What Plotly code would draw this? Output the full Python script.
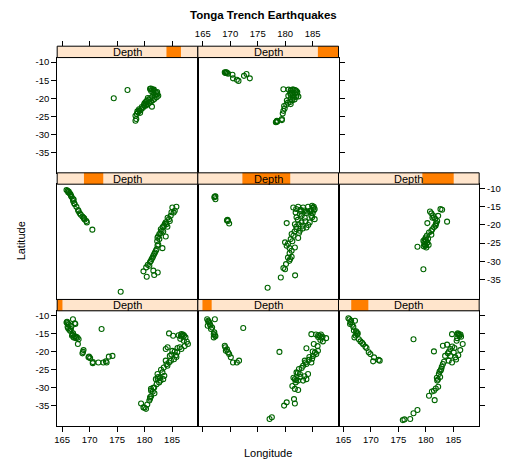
import plotly.graph_objects as go

# ---------------- data ----------------
depth_lo = [39.5, 60.5, 97.5, 161.5, 242.5, 421.5, 537.5, 586.5]
depth_hi = [63.5, 102.5, 175.5, 249.5, 460.5, 564.5, 603.5, 680.5]
depth_range = [39.5, 680.5]

x_ticks = [165, 170, 175, 180, 185]
y_ticks = [-10, -15, -20, -25, -30, -35]
y_ticktext = ["-10", "-15", "-20", "-25", "-30", "-35"]

lon_d1 = [165.8, 165.9, 166.0, 166.97, 167.4, 167.3, 166.0, 166.1, 166.5, 166.3, 166.6, 166.8, 166.9, 167.1, 167.3, 167.6, 168.0, 167.8,
          167.87, 168.9, 168.7, 168.8, 169.8, 170.1, 169.9, 170.57, 170.6, 171.6, 172.5, 172.96, 173.1, 173.5, 174.16, 172.18,
          184.46, 185.2, 186.7, 186.85, 187.0, 187.2, 186.6, 187.45, 187.9, 187.7, 187.15, 186.7, 186.4, 185.96, 185.5, 185.06,
          183.86, 184.6, 185.36, 184.46, 184.16, 183.86, 184.0, 183.26, 183.5, 182.36, 182.5, 182.06, 182.4, 182.66, 183.4, 183.6,
          181.76, 181.17, 181.5, 181.2, 181.0, 181.2, 180.87, 181.0, 179.37, 179.8, 180.27, 180.0,
          166.2, 166.7, 167.0, 167.5, 186.2, 186.5, 187.3, 186.0, 185.7, 184.9, 185.8, 183.0, 182.8, 182.2, 181.8, 181.6,
          180.5, 182.9, 184.8, 184.2]
lat_d1 = [-12.0, -11.8, -12.2, -11.1, -12.4, -12.2, -13.2, -13.6, -14.3, -14.0, -13.8, -15.65, -15.4, -16.1, -15.8, -15.9, -16.6, -16.2,
          -17.9, -19.6, -20.5, -20.1, -21.6, -21.8, -21.4, -23.2, -22.9, -23.0, -23.0, -22.7, -23.0, -21.4, -21.2, -13.8,
          -15.0, -15.65, -15.2, -15.5, -15.3, -15.6, -15.8, -16.1, -17.9, -17.3, -17.0, -19.3, -18.8, -20.2, -20.0, -19.8,
          -19.3, -21.2, -22.1, -23.0, -23.9, -22.5, -23.5, -25.75, -24.4, -26.2, -27.0, -27.6, -27.5, -28.5, -27.6, -26.7,
          -29.9, -30.3, -31.0, -30.8, -32.6, -32.3, -33.5, -33.0, -34.3, -35.4, -35.8, -35.5,
          -12.5, -13.0, -15.0, -16.3, -15.5, -16.5, -18.5, -19.0, -21.0, -20.8, -21.5, -25.0, -27.2, -29.0, -31.5, -30.0,
          -34.6, -28.0, -22.5, -18.8]

lon_d2 = [165.8, 166.0, 166.2, 165.9, 166.3, 166.5, 166.7, 167.1, 167.0, 167.0, 167.3, 167.2, 172.36,
          169.0, 169.1, 169.2, 169.4, 169.8, 169.6, 170.1, 170.5, 171.2, 171.6, 178.95,
          184.76, 185.6, 186.0, 186.26, 186.5, 186.8, 187.45, 186.85, 186.4, 185.2, 183.86, 185.66, 185.06, 185.96, 185.4,
          183.56, 183.86, 184.76, 184.3, 183.26, 183.7, 182.06, 182.66, 182.3, 181.76, 182.36, 182.0, 183.26, 183.86, 184.16,
          181.76, 182.36, 181.6, 181.76, 179.8, 180.27, 177.15, 177.57,
          166.4, 166.0, 167.2, 186.0, 186.6, 185.9, 185.0, 184.4, 184.9, 183.0, 182.5, 181.5, 181.9, 182.8, 183.5, 181.3]
lat_d2 = [-11.1, -11.5, -12.0, -12.9, -12.5, -13.8, -13.4, -14.7, -15.2, -16.1, -15.8, -11.1, -13.5,
          -18.4, -18.8, -19.8, -19.4, -20.7, -20.2, -21.6, -23.0, -23.0, -22.5, -20.1,
          -15.2, -15.3, -15.5, -15.65, -15.3, -15.9, -16.3, -17.2, -16.8, -17.9, -19.1, -20.7, -21.2, -19.8, -20.3,
          -22.5, -23.45, -23.0, -22.3, -23.9, -23.0, -25.75, -26.2, -25.9, -27.6, -28.0, -27.9, -28.0, -27.6, -26.2,
          -30.3, -30.6, -33.1, -34.3, -34.9, -34.0, -38.6, -38.1,
          -12.8, -11.8, -15.5, -16.0, -16.2, -18.5, -20.0, -21.5, -22.0, -24.5, -24.8, -27.2, -28.5, -27.0, -26.8, -29.5]

lon_d3 = [165.9, 166.1, 166.4, 167.1, 166.2, 166.6, 166.8, 167.4, 167.3, 167.6, 167.5, 167.0, 167.8, 168.6, 169.2, 169.0,
          169.6, 169.9, 170.57, 170.4, 171.6, 171.4, 177.75, 181.47,
          184.76, 185.8, 185.96, 186.3, 186.1, 185.7, 186.7, 183.1, 183.86, 184.46, 185.06, 186.26, 184.46, 185.36, 184.0,
          184.76, 184.16, 183.1, 182.8, 182.9, 182.36, 182.5, 182.06, 182.2, 182.24, 181.47, 181.1, 180.57, 181.6,
          178.47, 177.75, 177.15, 175.8, 176.1,
          166.3, 166.9, 167.2, 168.1, 168.4, 186.0, 186.4, 185.6, 185.2, 184.8, 184.2, 183.5, 183.3, 182.7, 182.6, 182.0,
          181.8, 185.9, 185.5]
lat_d3 = [-10.8, -11.1, -11.5, -11.5, -12.4, -12.6, -13.2, -14.7, -14.4, -15.0, -15.3, -16.1, -16.6, -18.0, -19.0, -18.7,
          -20.2, -20.7, -21.6, -22.7, -22.5, -22.3, -16.6, -19.96,
          -15.2, -15.0, -15.2, -15.3, -15.7, -16.3, -17.9, -18.4, -18.1, -19.3, -20.2, -19.6, -21.2, -21.6, -20.5,
          -23.0, -22.5, -23.45, -24.8, -24.2, -26.2, -25.5, -28.0, -27.7, -29.7, -30.8, -31.0, -32.2, -33.4,
          -36.1, -37.0, -38.6, -38.9, -38.7,
          -11.9, -14.2, -15.6, -17.2, -17.6, -15.4, -15.9, -17.0, -19.0, -18.6, -20.0, -21.2, -22.8, -25.2, -27.0, -27.2,
          -30.2, -21.0, -22.2]

lon_d4 = [165.8, 166.0, 166.2, 166.5, 166.3, 166.7, 166.95, 167.0, 167.2, 167.3, 167.9, 168.0, 168.4, 168.7, 168.9, 169.1,
          169.4, 169.5, 170.5,
          185.06, 185.8, 185.5, 184.9, 184.76, 184.46, 184.2, 183.86, 184.0, 183.56, 184.16, 183.3, 182.96, 183.1, 182.7,
          182.9, 182.36, 182.5, 183.86, 182.36, 182.5, 182.06, 182.2, 181.76, 181.9, 181.47, 181.17, 181.3, 180.87, 180.3,
          179.8, 180.4, 181.6, 182.4, 181.76, 183.26, 175.66,
          166.1, 166.6, 167.1, 167.6, 168.2, 169.0, 185.3, 184.6, 183.7, 183.4, 182.7, 182.3, 181.6, 181.0, 180.6]
lat_d4 = [-10.4, -10.6, -10.8, -11.5, -11.2, -12.2, -12.8, -13.4, -14.0, -14.3, -15.9, -16.2, -17.2, -17.7, -18.0, -18.5,
          -18.9, -19.3, -21.3,
          -15.2, -15.0, -16.1, -16.5, -17.5, -18.4, -18.0, -19.3, -19.8, -20.2, -20.5, -20.6, -21.2, -21.7, -22.5,
          -22.3, -23.5, -23.1, -23.2, -25.7, -25.4, -27.1, -26.7, -28.0, -27.6, -29.0, -29.9, -29.4, -31.25, -31.7,
          -32.8, -34.3, -32.6, -33.1, -33.8, -26.4, -38.4,
          -11.0, -11.9, -13.0, -15.0, -16.8, -18.2, -16.6, -18.9, -19.7, -21.8, -23.9, -24.5, -28.5, -30.2, -31.0]

lon_d5 = [167.2, 167.3, 167.1, 167.3, 169.5, 169.6, 169.4, 169.8,
          181.47, 182.36, 183.26, 184.16, 184.9, 185.1, 185.36, 185.2, 185.36, 184.76, 184.46, 183.86, 182.66, 182.06,
          181.76, 182.06, 182.66, 182.96, 183.56, 182.9, 183.9, 182.3, 183.2, 181.9, 180.27, 181.17, 181.5, 181.0,
          179.97, 180.27, 181.17, 181.76, 182.36, 181.17, 180.75, 180.9, 180.15, 179.67, 179.97, 179.2, 181.8, 176.8,
          180.5, 180.8,
          182.0, 182.8, 183.5, 184.0, 184.5, 185.0, 184.9, 183.0, 182.4, 183.7, 184.2, 182.0, 181.7, 182.5, 183.2, 184.7,
          185.2, 180.8, 180.5, 181.3]
lat_d5 = [-12.2, -12.1, -12.4, -12.9, -18.6, -18.9, -18.8, -19.6,
          -15.2, -15.0, -15.2, -15.0, -14.7, -15.3, -15.65, -16.0, -18.4, -17.5, -19.3, -20.7, -17.0, -17.9,
          -19.8, -21.2, -21.6, -19.3, -18.0, -16.2, -16.7, -18.6, -20.2, -16.6, -19.5, -22.5, -23.0, -23.9,
          -24.8, -25.75, -27.1, -26.2, -23.6, -28.77, -29.9, -29.4, -30.8, -31.9, -32.2, -34.5, -33.9, -37.3,
          -25.2, -26.4,
          -15.6, -15.8, -16.0, -16.3, -16.2, -16.8, -17.9, -17.5, -19.8, -19.0, -20.0, -20.5, -21.8, -22.2, -21.0, -16.0,
          -15.0, -27.8, -29.0, -24.5]

lon_d6 = [180.75, 182.66, 182.96, 182.24, 183.86, 180.27, 181.0, 181.3, 181.47, 181.7, 182.06, 181.9, 181.76, 181.5,
          181.17, 180.57, 181.0, 180.2, 179.97, 179.8, 179.55, 179.8, 180.27, 179.9, 180.1, 180.4, 178.47, 179.55,
          179.7, 179.9, 180.2, 180.5, 179.6, 180.0, 181.2, 181.8, 181.0]
lat_d6 = [-16.3, -15.65, -15.8, -17.5, -19.1, -19.5, -16.8, -17.4, -17.9, -18.3, -18.9, -19.5, -20.2, -20.6,
          -21.2, -22.1, -22.7, -22.9, -23.45, -24.0, -24.4, -25.3, -24.8, -25.8, -26.2, -23.8, -26.0, -32.2,
          -24.7, -25.6, -25.0, -25.5, -25.9, -24.2, -18.0, -19.8, -21.7]

lon_d7 = [174.4, 176.9, 181.0, 181.17, 181.4, 181.6, 182.06, 182.3, 182.5, 182.2, 181.8, 181.5, 180.9, 181.2, 180.4,
          180.6, 180.0, 180.3, 179.4, 179.7, 178.8, 179.1, 178.35, 178.5, 178.35, 181.35, 180.0, 180.6,
          181.2, 181.6, 181.9, 181.4, 181.0, 180.7, 180.2, 179.9, 179.5, 179.0, 178.7, 178.6, 179.2, 180.3, 181.7, 182.3]
lat_d7 = [-20.0, -17.7, -17.4, -17.3, -17.5, -17.8, -18.4, -18.9, -19.3, -19.7, -20.2, -20.5, -21.2, -20.9, -20.7,
          -21.6, -22.1, -22.0, -23.0, -22.6, -23.9, -23.4, -24.8, -25.7, -26.2, -22.3, -21.4, -19.9,
          -18.0, -18.5, -19.2, -19.6, -20.0, -20.4, -21.0, -21.8, -22.4, -23.0, -23.6, -24.3, -24.0, -21.6, -17.6, -18.3]

lon_d8 = [169.19, 169.3, 169.1, 169.6, 170.4, 170.5, 171.2, 171.5, 172.5, 172.96, 173.56,
          179.67, 180.6, 181.0, 181.5, 182.0, 181.2, 181.8, 182.1, 182.4, 180.57, 181.0, 181.5, 181.3, 180.9, 181.0,
          180.5, 179.8, 179.67, 179.55, 179.4, 178.47, 178.4, 178.6,
          181.3, 181.8, 182.2, 180.9, 181.4, 182.0, 181.7, 181.0, 180.3, 180.2, 179.9, 178.5, 178.3, 179.4, 169.0, 169.4]
lat_d8 = [-12.9, -12.8, -13.0, -13.2, -13.5, -14.5, -14.9, -15.2, -13.8, -13.3, -14.5,
          -17.5, -17.6, -17.8, -17.6, -17.9, -18.4, -18.6, -19.0, -19.5, -19.3, -19.0, -19.8, -20.5, -21.0, -21.6,
          -21.2, -22.1, -23.45, -24.2, -25.7, -26.4, -26.5, -26.3,
          -17.6, -17.7, -18.3, -18.5, -19.2, -19.6, -20.3, -20.2, -20.6, -21.8, -22.8, -26.2, -26.6, -26.0, -12.8, -13.0]

lons = [lon_d1, lon_d2, lon_d3, lon_d4, lon_d5, lon_d6, lon_d7, lon_d8]
lats = [lat_d1, lat_d2, lat_d3, lat_d4, lat_d5, lat_d6, lat_d7, lat_d8]

# ---------------- layout geometry ----------------
W, H = 507, 459
XR = [164.1, 189.7]
YR = [-40.54, -8.77]
col_left = [54.5, 196.0, 337.5]
pw = 141.5
strip_top0 = 45.3
sh = 11.4
ph = 115.5
FONT = "Liberation Sans, Arial, sans-serif"


def px(x):
    return x / W


def py(y):
    return 1 - y / H


pos = {1: (2, 0), 2: (2, 1), 3: (2, 2), 4: (1, 0), 5: (1, 1), 6: (1, 2), 7: (0, 0), 8: (0, 1)}

fig = go.Figure()
layout = {}
shapes = []
annotations = []

for k in range(1, 9):
    r, c = pos[k]
    left = col_left[c]
    s_top = strip_top0 + r * (sh + ph)
    s_bot = s_top + sh
    p_top = s_bot
    p_bot = p_top + ph

    fig.add_trace(go.Scatter(
        x=lons[k - 1], y=lats[k - 1], mode="markers",
        xaxis=f"x{k}", yaxis=f"y{k}", showlegend=False, hoverinfo="skip",
        marker=dict(symbol="circle-open", size=5, color="#006400", line=dict(width=1.1, color="#006400")),
    ))

    xa = dict(domain=[px(left), px(left + pw)], range=XR, anchor=f"y{k}",
              showline=True, mirror=True, linecolor="black", linewidth=1,
              showgrid=False, zeroline=False, tickvals=x_ticks,
              tickfont=dict(family=FONT, size=9.5, color="black"))
    if r == 2:
        xa.update(ticks="outside", ticklen=5, tickwidth=1, tickcolor="black", showticklabels=(c != 1))
    else:
        xa.update(ticks="", showticklabels=False)

    ya = dict(domain=[py(p_bot), py(p_top)], range=YR, anchor=f"x{k}",
              showline=True, mirror=True, linecolor="black", linewidth=1,
              showgrid=False, zeroline=False, tickvals=y_ticks, ticktext=y_ticktext,
              tickfont=dict(family=FONT, size=9.5, color="black"))
    if c == 0 and r in (0, 2):
        ya.update(ticks="outside", ticklen=5, tickwidth=1, tickcolor="black", side="left", showticklabels=True)
    elif k in (3, 6, 8):
        ya.update(ticks="outside", ticklen=5, tickwidth=1, tickcolor="black", side="right",
                  showticklabels=(k == 6))
    else:
        ya.update(ticks="", showticklabels=False)

    layout[f"xaxis{k}"] = xa
    layout[f"yaxis{k}"] = ya

    # strip
    shapes.append(dict(type="rect", xref="paper", yref="paper", x0=px(left), x1=px(left + pw),
                       y0=py(s_bot), y1=py(s_top), fillcolor="#FFE5CC", line=dict(width=0)))
    f0 = (depth_lo[k - 1] - depth_range[0]) / (depth_range[1] - depth_range[0])
    f1 = (depth_hi[k - 1] - depth_range[0]) / (depth_range[1] - depth_range[0])
    shapes.append(dict(type="rect", xref="paper", yref="paper", x0=px(left + pw * f0), x1=px(left + pw * f1),
                       y0=py(s_bot), y1=py(s_top), fillcolor="#FF7F00", line=dict(width=0)))
    shapes.append(dict(type="rect", xref="paper", yref="paper", x0=px(left), x1=px(left + pw),
                       y0=py(s_bot), y1=py(s_top), fillcolor="rgba(0,0,0,0)", line=dict(width=1, color="black")))
    annotations.append(dict(text="Depth", x=px(left + pw / 2), y=py((s_top + s_bot) / 2), xref="paper", yref="paper",
                            showarrow=False, xanchor="center", yanchor="middle",
                            font=dict(family=FONT, size=11, color="black")))

# top tick axes for the top row
for k_new, k_base in ((9, 7), (10, 8)):
    fig.add_trace(go.Scatter(x=[None], y=[None], xaxis=f"x{k_new}", yaxis=f"y{k_base}",
                             showlegend=False, hoverinfo="skip"))
    layout[f"xaxis{k_new}"] = dict(overlaying=f"x{k_base}", anchor="free", position=py(strip_top0), side="top",
                                   range=XR, showline=False, showgrid=False, zeroline=False,
                                   ticks="outside", ticklen=5, tickwidth=1, tickcolor="black",
                                   tickvals=x_ticks, showticklabels=(k_new == 10),
                                   tickfont=dict(family=FONT, size=9.5, color="black"))

annotations.append(dict(text="<b>Tonga Trench Earthquakes</b>", x=px(262), y=py(14), xref="paper", yref="paper",
                        showarrow=False, xanchor="center", yanchor="middle",
                        font=dict(family=FONT, size=11.5, color="black")))
annotations.append(dict(text="Longitude", x=px(266.5), y=py(453), xref="paper", yref="paper",
                        showarrow=False, xanchor="center", yanchor="middle",
                        font=dict(family=FONT, size=11, color="black")))
annotations.append(dict(text="Latitude", x=px(19), y=py(240), xref="paper", yref="paper", textangle=-90,
                        showarrow=False, xanchor="center", yanchor="middle",
                        font=dict(family=FONT, size=11, color="black")))

fig.update_layout(width=W, height=H, margin=dict(l=0, r=0, t=0, b=0), paper_bgcolor="white",
                  plot_bgcolor="white", shapes=shapes, annotations=annotations, **layout)

fig.write_html("out.html")
